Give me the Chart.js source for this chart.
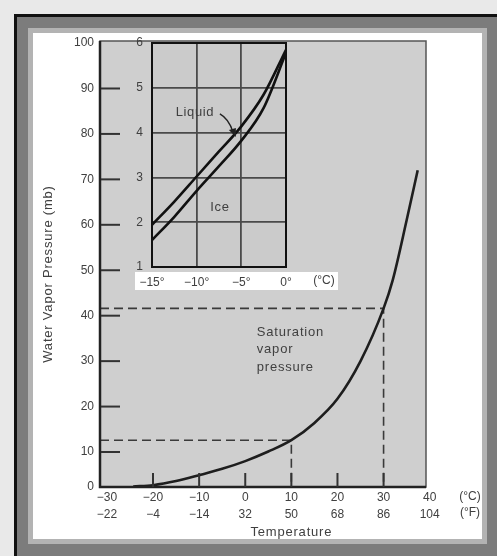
<!DOCTYPE html>
<html>
<head>
<meta charset="utf-8">
<script src="https://cdn.jsdelivr.net/npm/chart.js@4.4.0/dist/chart.umd.min.js"></script>
<style>
  body { margin: 0; width: 497px; height: 556px; overflow: hidden; background: #e9e9e9; position: relative; }
  .frame { position: absolute; left: 14px; top: 14px; right: 0; bottom: 0; background: #7c7c7c; border-left: 3px solid #111; border-top: 3px solid #111; }
  .panel { position: absolute; left: 33px; top: 33px; width: 449px; height: 506px; background: #fff; box-shadow: 0 0 0 5px #b3b3b3; }
  #main { position: absolute; left: 0; top: 0; }
  #inset { position: absolute; left: 100px; top: 20px; }
</style>
</head>
<body>
<div class="frame"></div>
<div class="panel"></div>
<canvas id="main" width="497" height="556"></canvas>
<canvas id="inset" width="260" height="290"></canvas>
<script>
// main chart: saturation vapor pressure
const tempC = [-30, -20, -10, 0, 10, 20, 30, 40];
const tempF = ["−22", "−4", "−14", "32", "50", "68", "86", "104"];
const pressureTicks = [0, 10, 20, 30, 40, 50, 60, 70, 80, 90, 100];

const curveTemp = [-24.3, -20, -15, -10, -5, 0, 5, 10, 15, 20, 25, 30, 32, 35, 37.4];
const curvePressure = [2.4, 2.7, 3.6, 4.9, 6.3, 8.0, 10.1, 12.6, 16.4, 21.7, 30.0, 41.6, 47.9, 61.0, 72];

// dashed reading lines at 10 and 30 degrees
const markTemp = [10, 30];
const markPressure = [12.6, 41.6];

// inset: over liquid water vs over ice
const insetTemp = [-15, -12.5, -10, -7.5, -5, -2.5, 0];
const liquidPressure = [1.94, 2.46, 3.02, 3.58, 4.14, 4.85, 5.85];
const icePressure = [1.6, 2.12, 2.7, 3.25, 3.82, 4.55, 5.78];
const insetTempTicks = [-15, -10, -5, 0];
const insetTempLabels = ["−15°", "−10°", "−5°", "0°"];
const insetPressureTicks = [1, 2, 3, 4, 5, 6];

const ink = "#404040";
const font = "'Liberation Sans', Arial, sans-serif";

// the printed "0" sits on the bottom axis, a bit above a true zero
const yMin = 2.3;
const yMax = 100.45;
const xMin = -31.5;
const xMax = 39.2;

const minus = (v) => String(v).replace("-", "−");

const mainDecor = {
    id: "mainDecor",
    beforeDraw(chart) {
        const { ctx, chartArea: a } = chart;
        ctx.save();
        ctx.fillStyle = "#cfcfcf";
        ctx.fillRect(a.left, a.top, a.right - a.left, a.bottom - a.top);
        ctx.restore();
    },
    afterDraw(chart) {
        const { ctx, chartArea: a } = chart;
        const xs = chart.scales.x, ys = chart.scales.y;
        ctx.save();

        // plot frame
        ctx.strokeStyle = "#555";
        ctx.lineWidth = 1.5;
        ctx.strokeRect(a.left, a.top, a.right - a.left, a.bottom - a.top);
        ctx.strokeStyle = "#222";
        ctx.lineWidth = 2.5;
        ctx.beginPath();
        ctx.moveTo(a.left, a.top);
        ctx.lineTo(a.left, a.bottom);
        ctx.lineTo(a.right, a.bottom);
        ctx.stroke();

        // tick marks pointing into the plot
        ctx.strokeStyle = "#333";
        ctx.lineWidth = 2;
        pressureTicks.filter(v => v > 0 && v < 100).forEach(v => {
            const py = ys.getPixelForValue(v);
            ctx.beginPath();
            ctx.moveTo(a.left + 1, py);
            ctx.lineTo(a.left + 20, py);
            ctx.stroke();
        });
        tempC.filter(v => v > xMin + 2 && v < xMax - 2).forEach(v => {
            const px = xs.getPixelForValue(v);
            ctx.beginPath();
            ctx.moveTo(px, a.bottom);
            ctx.lineTo(px, a.bottom - 14);
            ctx.stroke();
        });

        // texts
        ctx.fillStyle = ink;
        ctx.font = "12px " + font;
        ctx.textAlign = "center";
        ctx.textBaseline = "middle";
        ctx.fillText("(°C)", a.right + 44, a.bottom + 10);
        ctx.fillText("(°F)", a.right + 44, a.bottom + 26);

        ctx.letterSpacing = "0.8px";
        ctx.font = "13px " + font;
        ctx.fillText("Temperature", xs.getPixelForValue(10), a.bottom + 45);

        ctx.textAlign = "left";
        const sx = xs.getPixelForValue(2.5);
        const sy = ys.getPixelForValue(36.4);
        ["Saturation", "vapor", "pressure"].forEach((t, i) => ctx.fillText(t, sx, sy + i * 17.5));

        ctx.translate(48, (a.top + a.bottom) / 2 + 10);
        ctx.rotate(-Math.PI / 2);
        ctx.textAlign = "center";
        ctx.fillText("Water Vapor Pressure (mb)", 0, 0);
        ctx.restore();
    }
};

new Chart(document.getElementById("main"), {
    type: "line",
    data: {
        datasets: [
            {
                data: curveTemp.map((t, i) => ({ x: t, y: curvePressure[i] })),
                borderColor: "#1e1e1e",
                borderWidth: 2.6,
                pointRadius: 0,
                cubicInterpolationMode: "monotone"
            },
            ...markTemp.map((t, i) => ({
                data: [
                    { x: xMin, y: markPressure[i] },
                    { x: t, y: markPressure[i] },
                    { x: t, y: yMin }
                ],
                borderColor: "#3a3a3a",
                borderWidth: 1.6,
                borderDash: [9, 5],
                pointRadius: 0,
                tension: 0
            }))
        ]
    },
    options: {
        responsive: false,
        animation: false,
        layout: { padding: { top: 41, right: 71, left: 0, bottom: 0 } },
        plugins: { legend: { display: false }, tooltip: { enabled: false } },
        scales: {
            x: {
                type: "linear",
                min: xMin,
                max: xMax,
                afterBuildTicks: (s) => { s.ticks = tempC.map(v => ({ value: v })); },
                afterFit: (s) => { s.height = 69; },
                grid: { display: false, drawTicks: false },
                border: { display: false },
                ticks: {
                    padding: 3,
                    color: ink,
                    autoSkip: false,
                    maxRotation: 0,
                    font: { family: font, size: 12, lineHeight: 1.35 },
                    callback: (v, i) => [minus(tempC[i]), tempF[i]]
                }
            },
            y: {
                type: "linear",
                min: yMin,
                max: yMax,
                afterBuildTicks: (s) => { s.ticks = pressureTicks.map(v => ({ value: Math.max(v, yMin) })); },
                afterFit: (s) => { s.width = 100; },
                grid: { display: false, drawTicks: false },
                border: { display: false },
                ticks: {
                    padding: 6,
                    color: ink,
                    font: { family: font, size: 12 },
                    callback: (v, i) => pressureTicks[i]
                }
            }
        }
    },
    plugins: [mainDecor]
});

const insetDecor = {
    id: "insetDecor",
    beforeDraw(chart) {
        const { ctx, chartArea: a } = chart;
        ctx.save();
        ctx.fillStyle = "#fff";
        ctx.fillRect(a.left - 17, a.bottom + 5, a.right - a.left + 69, 18);
        ctx.fillStyle = "#cbcbcb";
        ctx.fillRect(a.left, a.top, a.right - a.left, a.bottom - a.top);
        ctx.restore();
    },
    afterDraw(chart) {
        const { ctx, chartArea: a } = chart;
        const xs = chart.scales.x, ys = chart.scales.y;
        ctx.save();
        ctx.strokeStyle = "#111";
        ctx.lineWidth = 2;
        ctx.strokeRect(a.left, a.top, a.right - a.left, a.bottom - a.top);

        ctx.fillStyle = ink;
        ctx.font = "12px " + font;
        ctx.textAlign = "center";
        ctx.textBaseline = "middle";
        ctx.fillText("(°C)", a.right + 38, a.bottom + 14);

        ctx.letterSpacing = "0.6px";
        ctx.font = "13px " + font;
        const lx = xs.getPixelForValue(-10.2), ly = ys.getPixelForValue(4.44);
        ctx.fillText("Liquid", lx, ly);
        ctx.fillText("Ice", xs.getPixelForValue(-7.4), ys.getPixelForValue(2.34));

        // arrow from the label to the liquid curve
        ctx.strokeStyle = "#222";
        ctx.lineWidth = 1.4;
        ctx.beginPath();
        ctx.moveTo(lx + 25, ly + 1);
        ctx.quadraticCurveTo(lx + 34, ly + 6, lx + 38, ly + 19);
        ctx.stroke();
        ctx.fillStyle = "#222";
        ctx.beginPath();
        ctx.moveTo(lx + 41, ly + 24);
        ctx.lineTo(lx + 34, ly + 17);
        ctx.lineTo(lx + 41, ly + 15);
        ctx.closePath();
        ctx.fill();
        ctx.restore();
    }
};

const insetLine = (vals) => ({
    data: insetTemp.map((t, i) => ({ x: t, y: vals[i] })),
    borderColor: "#111",
    borderWidth: 2.6,
    pointRadius: 0,
    cubicInterpolationMode: "monotone"
});

new Chart(document.getElementById("inset"), {
    type: "line",
    data: { datasets: [insetLine(liquidPressure), insetLine(icePressure)] },
    options: {
        responsive: false,
        animation: false,
        layout: { padding: { top: 23, right: 74, left: 0, bottom: 0 } },
        plugins: { legend: { display: false }, tooltip: { enabled: false } },
        scales: {
            x: {
                type: "linear",
                min: -15,
                max: 0,
                afterBuildTicks: (s) => { s.ticks = insetTempTicks.map(v => ({ value: v })); },
                afterFit: (s) => { s.height = 43; },
                grid: { color: "#4a4a4a", lineWidth: 1.8, drawTicks: false },
                border: { color: "#111", width: 2 },
                ticks: {
                    padding: 8,
                    color: ink,
                    autoSkip: false,
                    maxRotation: 0,
                    font: { family: font, size: 12 },
                    callback: (v, i) => insetTempLabels[i]
                }
            },
            y: {
                type: "linear",
                min: 1,
                max: 6,
                afterBuildTicks: (s) => { s.ticks = insetPressureTicks.map(v => ({ value: v })); },
                afterFit: (s) => { s.width = 52; },
                grid: { color: "#4a4a4a", lineWidth: 1.8, drawTicks: false },
                border: { color: "#111", width: 2 },
                ticks: {
                    padding: 9,
                    color: ink,
                    font: { family: font, size: 12 },
                    callback: (v, i) => insetPressureTicks[i]
                }
            }
        }
    },
    plugins: [insetDecor]
});
</script>
</body>
</html>
